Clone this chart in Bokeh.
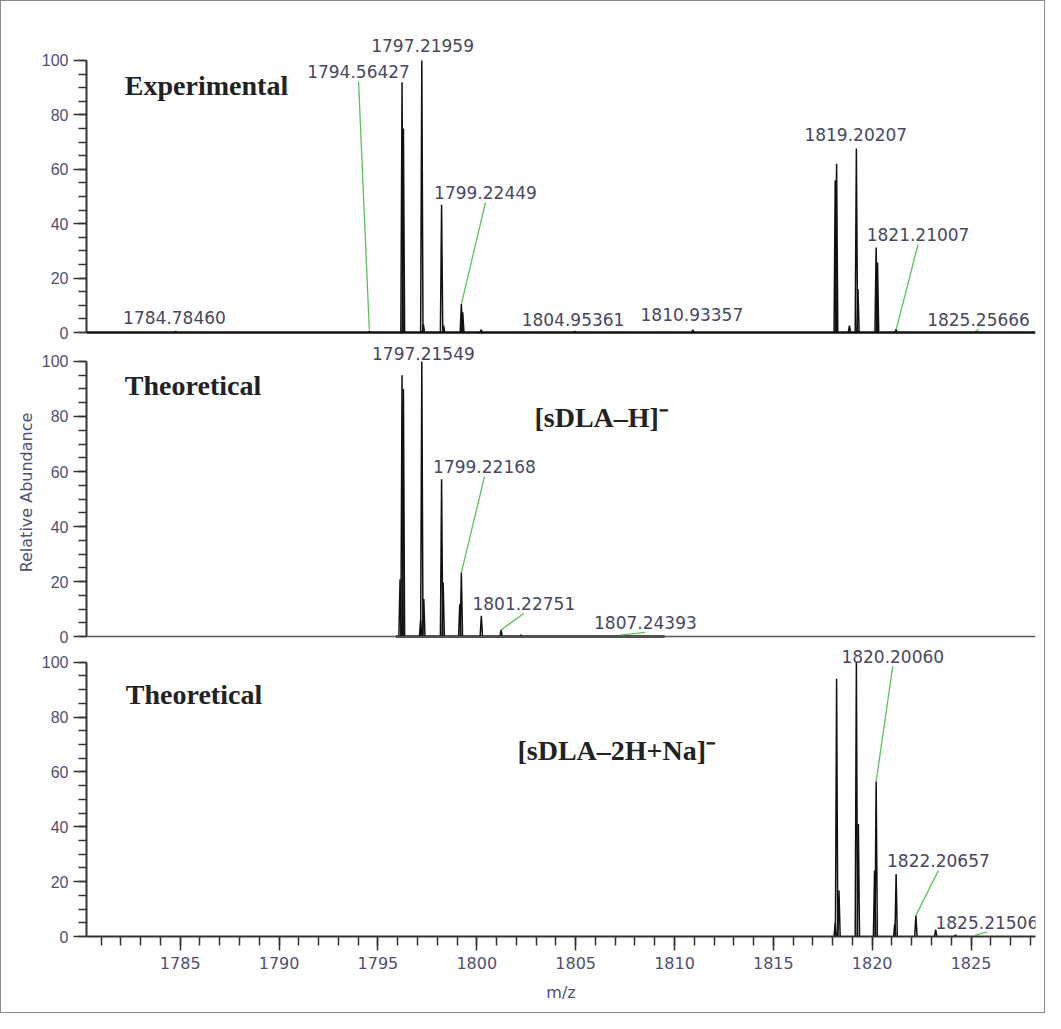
from bokeh.plotting import figure
from bokeh.models import Range1d, SingleIntervalTicker, LabelSet, Label, Span, ColumnDataSource
from bokeh.layouts import column
from bokeh.core.properties import value
from bokeh.embed import file_html
from bokeh.resources import INLINE

# ---------------- data ----------------
MZ_RANGE = [1780.26, 1828.26]

# Experimental spectrum: peak m/z and relative abundance
exp_mz = [1784.78, 1794.56, 1796.22, 1796.29, 1797.22, 1797.30, 1798.22, 1798.32,
          1799.22, 1799.29, 1800.22, 1804.95, 1810.93, 1818.13, 1818.20, 1818.85,
          1819.20, 1819.28, 1820.20, 1820.27, 1821.21, 1825.26]
exp_int = [0.4, 0.4, 92, 75, 100, 3, 47, 2.5,
           10.5, 7.4, 1.0, 0.4, 1.0, 56, 62, 2.5,
           67.6, 16, 31.2, 25.7, 1.2, 0.5]

# Theoretical [sDLA-H]-
th1_mz = [1796.12, 1796.22, 1796.29, 1797.16, 1797.22, 1797.32, 1798.22, 1798.30,
          1799.14, 1799.22, 1800.23, 1801.23, 1802.23]
th1_int = [20.8, 95, 90, 6, 100, 13.6, 57.2, 19.6,
           11.7, 23.3, 7.5, 2.4, 0.6]
th1_trace = [1795.9, 1809.5]

# Theoretical [sDLA-2H+Na]-
th2_mz = [1818.13, 1818.20, 1818.32, 1819.20, 1819.30, 1820.12, 1820.20, 1821.14,
          1821.21, 1822.21, 1823.21, 1824.21]
th2_int = [5, 94, 16.8, 100, 41, 24, 56.5, 4.6,
           22.8, 7.6, 2.5, 0.6]

# Annotated peaks: m/z value, abundance at the annotated point, leader line yes/no
exp_lab_mz = [1784.78460, 1794.56427, 1797.21959, 1799.22449, 1804.95361,
              1810.93357, 1819.20207, 1821.21007, 1825.25666]
exp_lab_int = [0, 1.0, 100, 10.5, 0, 1.0, 67.6, 1.0, 0.3]
exp_lab_leader = [False, True, False, True, False, False, False, True, True]
exp_lab_x = [1784.71, 1794.02, 1797.26, 1800.44, 1804.87, 1810.88, 1819.17, 1822.32, 1825.38]
exp_lab_y = [5.5, 96, 105.4, 51.5, 4.9, 6.7, 72.9, 36.1, 4.9]

th1_lab_mz = [1797.21549, 1799.22168, 1801.22751, 1807.24393]
th1_lab_int = [100, 23.3, 2.4, 0.5]
th1_lab_leader = [False, True, True, True]
th1_lab_x = [1797.30, 1800.39, 1802.38, 1808.53]
th1_lab_y = [103.0, 61.7, 12.0, 5.1]

th2_lab_mz = [1820.20060, 1822.20657, 1825.21506]
th2_lab_int = [56.5, 7.6, 0.5]
th2_lab_leader = [True, True, True]
th2_lab_x = [1821.04, 1823.35, 1825.80]
th2_lab_y = [102.2, 27.7, 5.2]

# ---------------- styles ----------------
TICK_COLOR = "#4f4f74"
AX_COLOR = "#333333"
LAB_COLOR = "#474762"
LEADER = "#5cc35c"
PEAK_W = 0.06

xr = Range1d(*MZ_RANGE)


def make_panel(height, btop, bbot, y0, y1, show_x=False, ylabel=None):
    p = figure(width=1043, height=height, x_range=xr, y_range=Range1d(y0, y1),
               output_backend="svg", toolbar_location=None,
               x_axis_location="below" if show_x else None,
               min_border_left=85, min_border_right=9,
               min_border_top=btop, min_border_bottom=bbot)
    p.grid.visible = False
    p.outline_line_color = None
    p.background_fill_color = "white"
    p.border_fill_color = "white"
    ya = p.yaxis[0]
    ya.ticker = SingleIntervalTicker(interval=20, num_minor_ticks=4)
    ya.bounds = (0, 100)
    ya.axis_line_color = AX_COLOR
    ya.axis_line_width = 2
    ya.major_tick_line_color = AX_COLOR
    ya.minor_tick_line_color = AX_COLOR
    ya.major_tick_line_width = 1.5
    ya.minor_tick_line_width = 1.5
    ya.major_tick_out = 13
    ya.major_tick_in = 0
    ya.minor_tick_out = 8
    ya.minor_tick_in = 0
    ya.major_label_standoff = 5
    ya.major_label_text_font = "Liberation Sans"
    ya.major_label_text_font_size = "16px"
    ya.major_label_text_color = TICK_COLOR
    if ylabel:
        ya.axis_label = ylabel
        ya.axis_label_text_font = "DejaVu Sans"
        ya.axis_label_text_font_size = "16px"
        ya.axis_label_text_font_style = "normal"
        ya.axis_label_text_color = TICK_COLOR
        ya.axis_label_standoff = 3
    if show_x:
        xa = p.xaxis[0]
        xa.ticker = SingleIntervalTicker(interval=5, num_minor_ticks=5)
        xa.axis_line_color = AX_COLOR
        xa.axis_line_width = 2
        xa.major_tick_line_color = AX_COLOR
        xa.minor_tick_line_color = AX_COLOR
        xa.major_tick_line_width = 1.5
        xa.minor_tick_line_width = 1.5
        xa.major_tick_out = 14
        xa.major_tick_in = 0
        xa.minor_tick_out = 9
        xa.minor_tick_in = 0
        xa.major_label_standoff = 6
        xa.major_label_text_font = "DejaVu Sans"
        xa.major_label_text_font_size = "16px"
        xa.major_label_text_color = TICK_COLOR
        xa.axis_label = "m/z"
        xa.axis_label_text_font = "DejaVu Sans"
        xa.axis_label_text_font_size = "16px"
        xa.axis_label_text_font_style = "normal"
        xa.axis_label_text_color = TICK_COLOR
        xa.axis_label_standoff = 11
    return p


def add_peaks(p, mz, inten):
    xs = [[m - PEAK_W, m, m + PEAK_W] for m in mz]
    ys = [[0, h, 0] for h in inten]
    p.multi_line(xs=xs, ys=ys, line_color="#111111", line_width=1.5)


def add_annotations(p, lab_mz, lab_int, leader, lx, ly, off):
    x0, y0, x1, y1 = [], [], [], []
    for m, h, f, x, y in zip(lab_mz, lab_int, leader, lx, ly):
        if f:
            x0.append(x); y0.append(y - off); x1.append(m); y1.append(h)
    p.segment(x0=x0, y0=y0, x1=x1, y1=y1, line_color=LEADER, line_width=1.3)
    src = ColumnDataSource(dict(x=lx, y=ly, text=[f"{m:.5f}" for m in lab_mz]))
    p.add_layout(LabelSet(x="x", y="y", text="text", source=src,
                          text_align="center", text_baseline="middle",
                          text_font=value("DejaVu Sans"), text_font_size=value("17px"),
                          text_color=LAB_COLOR))


def add_title(p, x, y, text):
    p.add_layout(Label(x=x, y=y, text=text, text_align="left", text_baseline="middle",
                       text_font="Liberation Serif", text_font_style="bold",
                       text_font_size="28px", text_color="#222222"))


# ---- top: experimental ----  (page y 9..352, frame 40..344)
p1 = make_panel(343, 31, 8, -1.47, 110.29)
p1.add_layout(Span(location=0, dimension="width", line_color="#111111", line_width=2.5))
add_peaks(p1, exp_mz, exp_int)
add_annotations(p1, exp_lab_mz, exp_lab_int, exp_lab_leader, exp_lab_x, exp_lab_y, 3.7)
add_title(p1, 1782.2, 90.7, "Experimental")

# ---- middle: theoretical [sDLA-H]- ----  (page y 352..656, frame 352..648)
p2 = make_panel(304, 0, 8, -1.45, 106.18, ylabel="Relative Abundance")
p2.add_layout(Span(location=0, dimension="width", line_color="#555555", line_width=1.3))
p2.line(x=th1_trace, y=[0, 0], line_color="#111111", line_width=2.5)
add_peaks(p2, th1_mz, th1_int)
add_annotations(p2, th1_lab_mz, th1_lab_int, th1_lab_leader, th1_lab_x, th1_lab_y, 3.6)
add_title(p2, 1782.2, 91.3, "Theoretical")
add_title(p2, 1802.92, 79.6, "[sDLA\u2013H]\u207b")

# ---- bottom: theoretical [sDLA-2H+Na]- ----  (page y 656..1020, frame 656..944)
p3 = make_panel(364, 0, 76, 0, 105.0, show_x=True)
add_peaks(p3, th2_mz, th2_int)
add_annotations(p3, th2_lab_mz, th2_lab_int, th2_lab_leader, th2_lab_x, th2_lab_y, 3.6)
add_title(p3, 1782.25, 88.3, "Theoretical")
add_title(p3, 1802.06, 67.9, "[sDLA\u20132H+Na]\u207b")

layout = column(p1, p2, p3, spacing=0, styles={"border": "1px solid #8a8a8a"})

open("out.html", "w").write(file_html(layout, INLINE))
